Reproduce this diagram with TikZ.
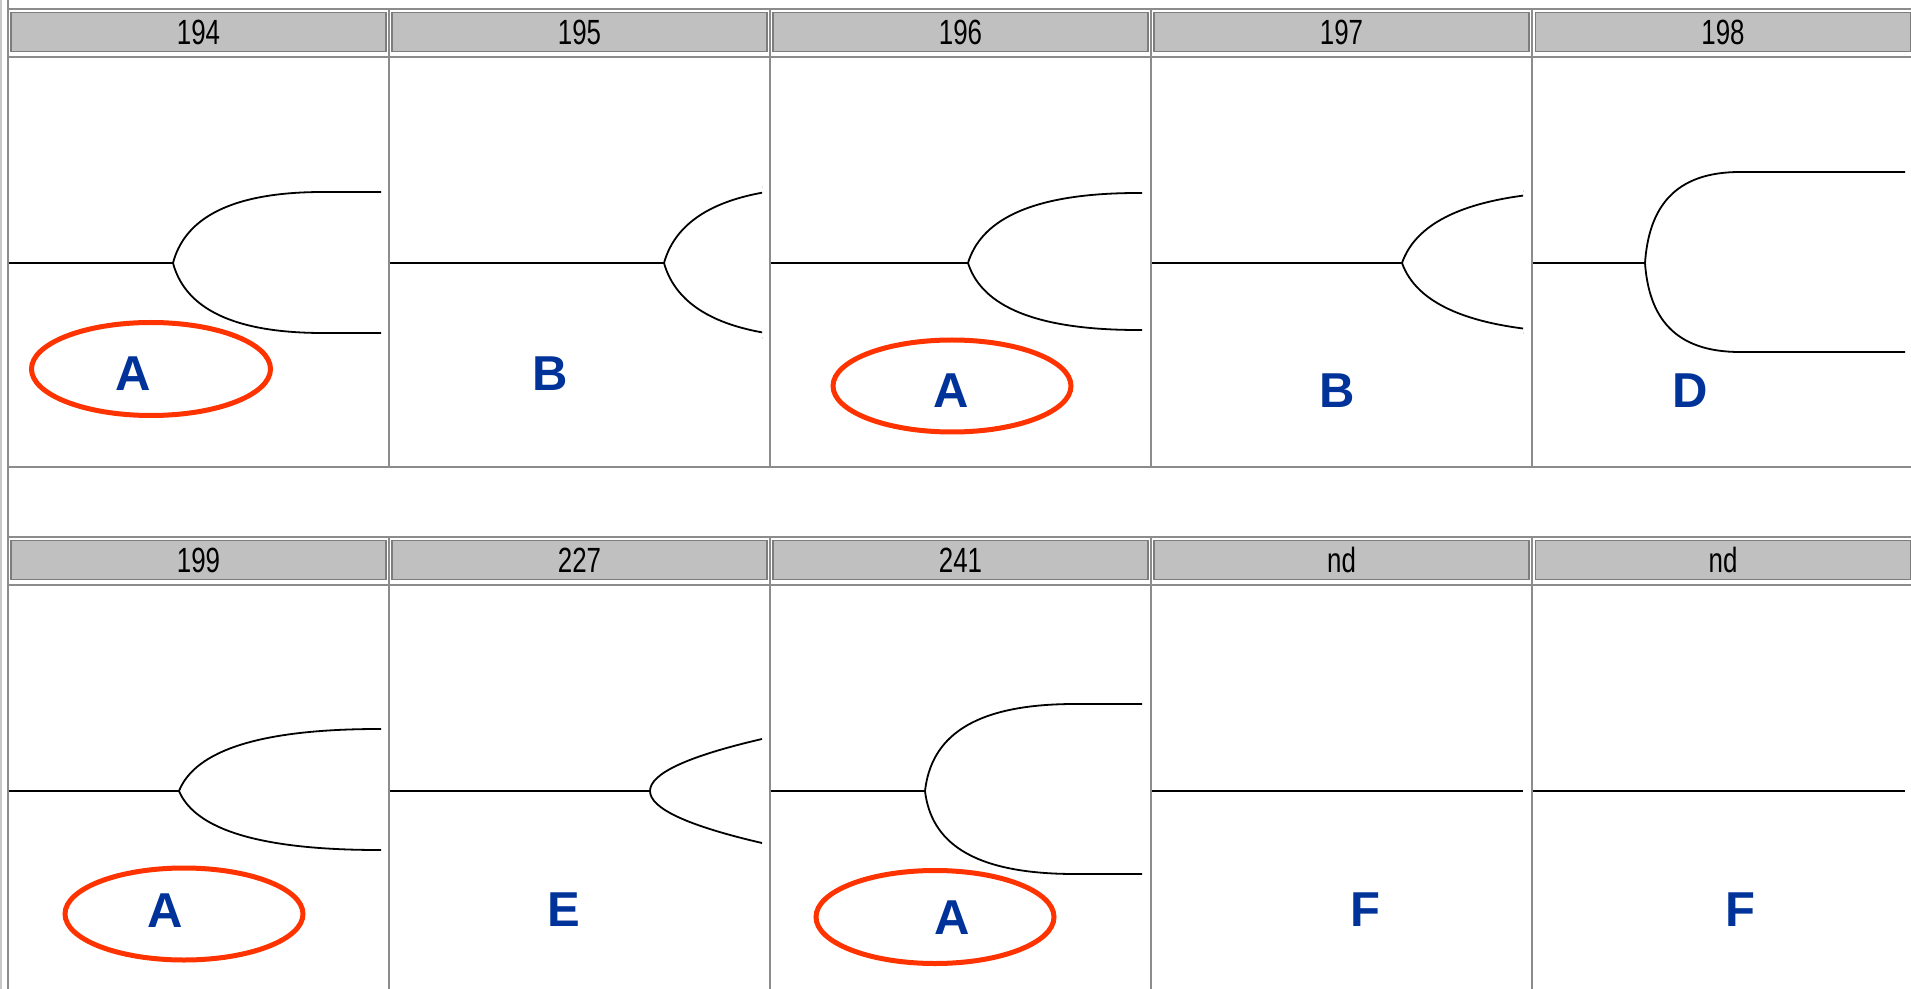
\documentclass[tikz,border=0pt]{standalone}
\usepackage{fontspec}
\setmainfont{Liberation Sans}
\usepackage{graphicx}
\usetikzlibrary{shapes.geometric}
\definecolor{hdrfill}{RGB}{192,192,192}
\definecolor{gridline}{RGB}{140,140,140}
\definecolor{hdredge}{RGB}{125,125,125}
\definecolor{edgelight}{RGB}{200,200,200}
\definecolor{lettblue}{RGB}{0,51,153}
\definecolor{ringred}{RGB}{255,51,0}
\newcommand{\hdrtxt}[1]{\scalebox{0.74}[1]{#1}}
% fork branch: fx, yc, X, D (signed), a, b, c, end x
\newcommand{\branch}[8]{%
  \draw[curve] ({#1},{#2}) .. controls ({#1+#5*#3},{#2+#6*(#4)}) and ({#1+#7*#3},{#2+(#4)}) .. ({#1+#3},{#2+(#4)}) -- ({#8},{#2+(#4)});}
\begin{document}
\begin{tikzpicture}[x=0.5pt,y=-0.5pt,
  hdr/.style={draw=hdredge, line width=0.7pt, fill=hdrfill, inner sep=0pt,
    minimum height=19.5pt, text=black, font=\fontsize{17.5}{20}\selectfont},
  grid/.style={draw=gridline, line width=1.2pt},
  thingrid/.style={draw=gridline, line width=0.8pt},
  curve/.style={draw=black, line width=0.9pt},
  lett/.style={text=lettblue, inner sep=0pt, font=\fontsize{24.5}{28}\selectfont\bfseries},
  ring/.style={ellipse, draw=ringred, line width=2.5pt, inner sep=0pt}]
\useasboundingbox (0,0) rectangle (1911,989);
\fill[white] (0,0) rectangle (1911,989);

% left edge double line
\draw[draw=edgelight, line width=1pt] (1,0) -- (1,989);

% ---------- grid, row 1 ----------
\draw[thingrid] (7,9) -- (1911,9);
\draw[grid] (8,57) -- (1911,57);
\draw[grid] (8,467) -- (1911,467);
\foreach \gx in {8,389,770,1151,1532} {\draw[grid] (\gx,9) -- (\gx,467);}
% ---------- grid, row 2 ----------
\draw[thingrid] (7,537) -- (1911,537);
\draw[grid] (8,585) -- (1911,585);
\foreach \gx in {8,389,770,1151,1532} {\draw[grid] (\gx,537) -- (\gx,989);}
\draw[grid] (8,0) -- (8,989);

% ---------- headers ----------
\node[hdr, minimum width=187.5pt] (h194) at (198.5,32) {\hdrtxt{194}};
\node[hdr, minimum width=187.5pt] (h195) at (579.5,32) {\hdrtxt{195}};
\node[hdr, minimum width=187.5pt] (h196) at (960.5,32) {\hdrtxt{196}};
\node[hdr, minimum width=187.5pt] (h197) at (1341.5,32) {\hdrtxt{197}};
\node[hdr, minimum width=187.5pt] (h198) at (1723,32) {\hdrtxt{198}};
\node[hdr, minimum width=187.5pt] (h199) at (198.5,560) {\hdrtxt{199}};
\node[hdr, minimum width=187.5pt] (h227) at (579.5,560) {\hdrtxt{227}};
\node[hdr, minimum width=187.5pt] (h241) at (960.5,560) {\hdrtxt{241}};
\node[hdr, minimum width=187.5pt] (hnd1) at (1341.5,560) {\hdrtxt{nd}};
\node[hdr, minimum width=187.5pt] (hnd2) at (1723,560) {\hdrtxt{nd}};

% ---------- forks, row 1 ----------
% 194
\draw[curve] (9,263) -- (173,263);
\branch{173}{263}{150}{-71}{0.07}{0.56}{0.33}{381}
\branch{173}{263}{150}{70}{0.07}{0.56}{0.33}{381}
% 195
\draw[curve] (390,263) -- (664,263);
\begin{scope}
\clip (600,100) rectangle (762,420);
\branch{664}{263}{170}{-76}{0.07}{0.56}{0.33}{762}
\branch{664}{263}{170}{75}{0.07}{0.56}{0.33}{762}
\end{scope}
% 196
\draw[curve] (771,263) -- (968,263);
\branch{968}{263}{170}{-70}{0.07}{0.56}{0.33}{1142}
\branch{968}{263}{170}{67}{0.07}{0.56}{0.33}{1142}
% 197
\draw[curve] (1152,263) -- (1402,263);
\begin{scope}
\clip (1350,100) rectangle (1523,420);
\branch{1402}{263}{200}{-72}{0.07}{0.56}{0.33}{1523}
\branch{1402}{263}{200}{70}{0.07}{0.56}{0.33}{1523}
\end{scope}
% 198
\draw[curve] (1533,263) -- (1645,263);
\branch{1645}{263}{95}{-91}{0.04}{0.6}{0.3}{1905}
\branch{1645}{263}{95}{89}{0.04}{0.6}{0.3}{1905}

% ---------- forks, row 2 ----------
% 199
\draw[curve] (9,791) -- (179,791);
\branch{179}{791}{200}{-62}{0.07}{0.56}{0.33}{381}
\branch{179}{791}{200}{59}{0.07}{0.56}{0.33}{381}
% 227
\draw[curve] (390,791) -- (650,791);
\draw[curve] (650,791) .. controls (650,773.7) and (687.3,756.3) .. (762,739);
\draw[curve] (650,791) .. controls (650,808.3) and (687.3,825.7) .. (762,843);
% 241
\draw[curve] (771,791) -- (925,791);
\branch{925}{791}{150}{-87}{0.04}{0.6}{0.3}{1142}
\branch{925}{791}{150}{83}{0.04}{0.6}{0.3}{1142}
% nd
\draw[curve] (1152,791) -- (1523,791);
\draw[curve] (1533,791) -- (1905,791);

% ---------- rings ----------
\node[ring, minimum width=119.5pt, minimum height=46.5pt] (r194) at (151,369) {};
\node[ring, minimum width=119pt, minimum height=46pt] (r196) at (952,386) {};
\node[ring, minimum width=119pt, minimum height=46pt] (r199) at (184,914) {};
\node[ring, minimum width=119pt, minimum height=46.5pt] (r241) at (935,917) {};

% ---------- letters ----------
\node[lett] (l194) at (133,374) {A};
\node[lett] (l195) at (550,374) {B};
\node[lett] (l196) at (951,391) {A};
\node[lett] (l197) at (1337,391) {B};
\node[lett] (l198) at (1690,391) {D};
\node[lett] (l199) at (165,911) {A};
\node[lett] (l227) at (564,910) {E};
\node[lett] (l241) at (952,918) {A};
\node[lett] (lnd1) at (1365,910) {F};
\node[lett] (lnd2) at (1740,910) {F};
\end{tikzpicture}
\end{document}
